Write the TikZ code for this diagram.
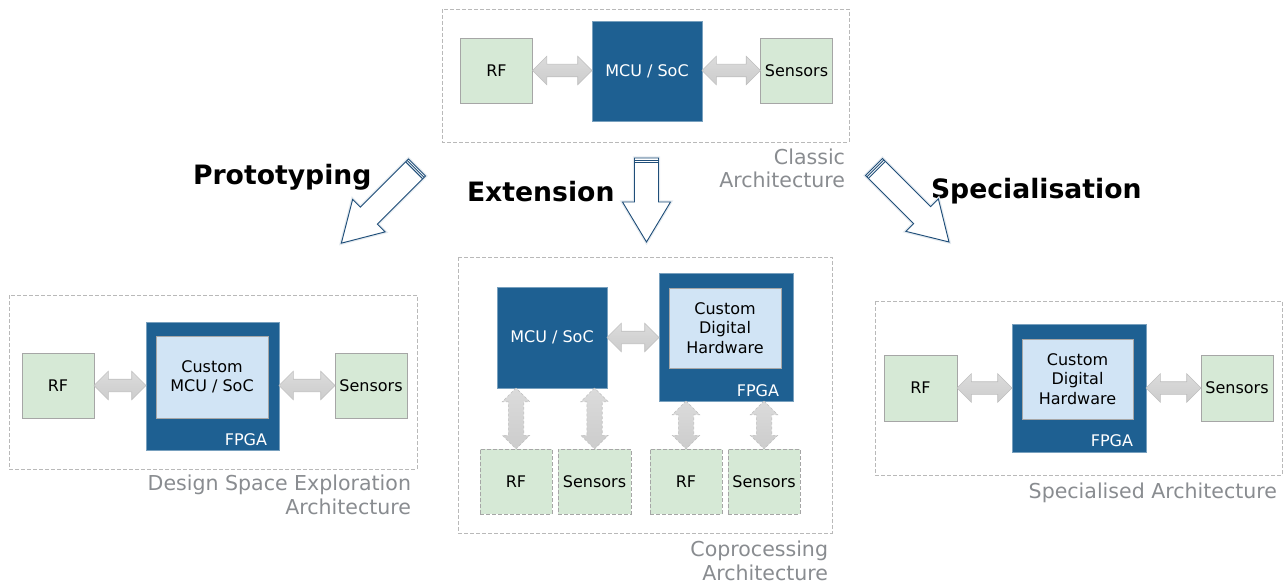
\documentclass[tikz,border=0pt]{standalone}
\usepackage{fontspec}
\setmainfont{DejaVu Sans}
\usetikzlibrary{%
  calc,
  positioning,
  shapes.arrows,
  shadings
}

\definecolor{socblue}{RGB}{30,96,146}
\definecolor{custblue}{RGB}{209,228,245}
\definecolor{periphgreen}{RGB}{214,233,214}
\definecolor{captgray}{RGB}{137,140,144}
\definecolor{bigarrowblue}{RGB}{31,78,121}

\newcommand{\boxfont}{\fontsize{12}{14.6}\selectfont}
\newcommand{\captfont}{\fontsize{15.4}{17.8}\selectfont}
\newcommand{\titlefont}{\fontsize{20}{24}\selectfont\bfseries}

% block arrow with two heads, stretched between two anchors
\newcommand{\biarrow}[3][]{%
  \path let \p1=(#2), \p2=(#3), \n1={veclen(\x2-\x1,\y2-\y1)} in
    (\p1) -- (\p2) node[midway, sloped, biarr, minimum height=\n1, #1] {};}

\begin{document}
\begin{tikzpicture}[x=0.75pt, y=-0.75pt,
    every node/.style={inner sep=0pt, outer sep=0pt},
    wh/.style 2 args={minimum width=#1*0.75pt, minimum height=#2*0.75pt},
    periph/.style={draw=gray!70, fill=periphgreen, font=\boxfont, text=black},
    dashedbox/.style={dash pattern=on 3pt off 1.5pt},
    proc/.style={draw=socblue!60!white, fill=socblue, font=\boxfont, text=white},
    fpga/.style={draw=socblue!60!white, fill=socblue},
    custbox/.style={draw=gray!70, fill=custblue, font=\boxfont, align=center, text=black},
    fpgalbl/.style={font=\boxfont, text=white, anchor=base east},
    grpframe/.style={draw=gray!55, dash pattern=on 3pt off 1.5pt, line width=0.6pt},
    capt/.style={font=\captfont, text=captgray, align=right, anchor=north east},
    headline/.style={font=\titlefont, anchor=base west},
    biarr/.style={double arrow, draw=gray!50, top color=gray!28, middle color=white,
      bottom color=gray!40, inner xsep=0pt, inner ysep=4.5pt, double arrow head extend=6pt},
    dashedarr/.style={dash pattern=on 2pt off 1.5pt, inner ysep=5.6pt, double arrow head extend=4.5pt},
    bigarr/.style={draw=bigarrowblue, fill=white, line width=0.7pt, line join=miter}
  ]
  \useasboundingbox (0,0) rectangle (1283,585);

  % frames of the four architectures
  \draw[grpframe] (442,9) rectangle (849,142);
  \draw[grpframe] (9,295) rectangle (417,469);
  \draw[grpframe] (458,257) rectangle (832,533);
  \draw[grpframe] (875,301) rectangle (1282,475);

  % classic
  \node[periph, wh={72}{65}] (rfA) at (496.5,70.5) {RF};
  \node[proc, wh={110}{100}] (mcuA) at (647,71) {MCU / SoC};
  \node[periph, wh={72}{65}] (senA) at (796.5,70.5) {Sensors};
  \biarrow{rfA.east}{rfA.east -| mcuA.west}
  \biarrow{senA.west}{senA.west -| mcuA.east}
  \node[capt] (capA) at (845,148.5) {Classic\\Architecture};

  % design space exploration
  \node[periph, wh={72}{65}] (rfB) at (58,385.5) {RF};
  \node[fpga, wh={133}{128}] (fpgaB) at (212.5,386) {};
  \node[custbox, wh={112}{82}] (cmcuB) at (212,377) {Custom\\MCU / SoC};
  \node[fpgalbl] (lblB) at ($(fpgaB.south east)+(-12,-5)$) {FPGA};
  \node[periph, wh={72}{65}] (senB) at (371,385.5) {Sensors};
  \biarrow{rfB.east}{rfB.east -| fpgaB.west}
  \biarrow{senB.west}{senB.west -| fpgaB.east}
  \node[capt] (capB) at (411,475) {Design Space Exploration\\Architecture};

  % coprocessing
  \node[proc, wh={110}{101}] (mcuC) at (552,337.5) {MCU / SoC};
  \node[fpga, wh={134}{128}] (fpgaC) at (726,337) {};
  \node[custbox, wh={112}{80}] (cdhC) at (725,328) {Custom\\Digital\\Hardware};
  \node[fpgalbl] (lblC) at ($(fpgaC.south east)+(-14,-5)$) {FPGA};
  \node[periph, dashedbox, wh={72}{65}] (rfC1) at (516,481.5) {RF};
  \node[periph, dashedbox, wh={73}{65}] (senC1) at (594.5,481.5) {Sensors};
  \node[periph, dashedbox, wh={72}{65}] (rfC2) at (686,481.5) {RF};
  \node[periph, dashedbox, wh={72}{65}] (senC2) at (764,481.5) {Sensors};
  \biarrow{mcuC.east}{mcuC.east -| fpgaC.west}
  \biarrow[dashedarr]{rfC1.north}{rfC1.north |- mcuC.south}
  \biarrow[dashedarr]{senC1.north}{senC1.north |- mcuC.south}
  \biarrow[dashedarr]{rfC2.north}{rfC2.north |- fpgaC.south}
  \biarrow[dashedarr]{senC2.north}{senC2.north |- fpgaC.south}
  \node[capt] (capC) at (828,541) {Coprocessing\\Architecture};

  % specialised
  \node[periph, wh={73}{66}] (rfD) at (920.5,388) {RF};
  \node[fpga, wh={134}{128}] (fpgaD) at (1079,388) {};
  \node[custbox, wh={111}{80}] (cdhD) at (1077.5,379) {Custom\\Digital\\Hardware};
  \node[fpgalbl] (lblD) at ($(fpgaD.south east)+(-13,-6)$) {FPGA};
  \node[periph, wh={72}{66}] (senD) at (1237,388) {Sensors};
  \biarrow{rfD.east}{rfD.east -| fpgaD.west}
  \biarrow{senD.west}{senD.west -| fpgaD.east}
  \node[capt] (capD) at (1277,482.5) {Specialised Architecture};

  % the three ways out of the classic architecture
  \node[headline] (protoT) at (193,185) {Prototyping};
  \node[headline] (extT) at (467,201.5) {Extension};
  \node[headline] (specT) at (931,199) {Specialisation};

  \foreach \tx/\ty/\ang/\len/\hl/\hw in {417/167.5/225/107/39/23, 646.5/158/270/84/40/24, 874/167/315/106/38/23}{
    \begin{scope}[shift={(\tx,\ty)}, rotate=\ang]
      \draw[bigarr, draw=bigarrowblue!12, line width=2.5pt]
        (0,-12) -- ({\len-\hl},-12) -- ({\len-\hl},-\hw) -- (\len,0) -- ({\len-\hl},\hw) -- ({\len-\hl},12) -- (0,12) -- cycle;
      \draw[bigarr]
        (0,-12) -- ({\len-\hl},-12) -- ({\len-\hl},-\hw) -- (\len,0) -- ({\len-\hl},\hw) -- ({\len-\hl},12) -- (0,12) -- cycle;
      \foreach \s in {2,4}
        \draw[bigarr] (\s,-12) -- (\s,12);
    \end{scope}
  }
\end{tikzpicture}
\end{document}
